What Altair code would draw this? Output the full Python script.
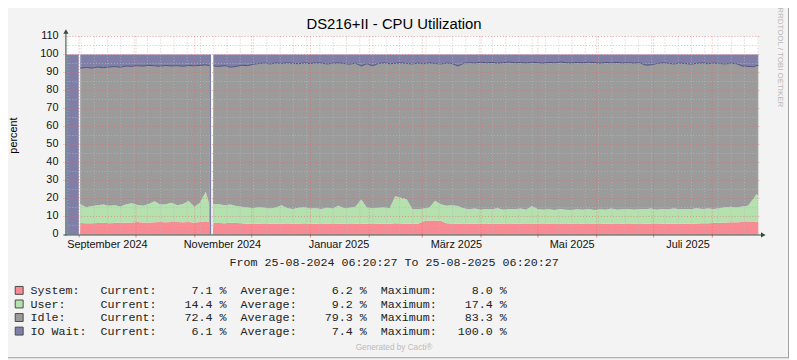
import altair as alt
import pandas as pd
from datetime import datetime, timedelta

# ---------------- time frame ----------------
START = datetime(2024, 8, 25, 6, 20, 27)
END = datetime(2025, 8, 25, 6, 20, 27)
DAYS = (END - START).total_seconds() / 86400.0


def dday(dt):
    return (dt - START).total_seconds() / 86400.0


TITLE = "DS216+II - CPU Utilization"
Y_TITLE = "percent"

series_names = ["System", "User", "Idle", "IO Wait"]
series_colors = ["#F78A92", "#B4E1AD", "#9B9B9B", "#7F7FA8"]
legend_labels = ["System:", "User:", "Idle:", "IO Wait:"]
cur_vals = [7.1, 14.4, 72.4, 6.1]
avg_vals = [6.2, 9.2, 79.3, 7.4]
max_vals = [8.0, 17.4, 83.3, 100.0]

y_ticks = [0, 10, 20, 30, 40, 50, 60, 70, 80, 90, 100, 110]
month_labels = ["September 2024", "November 2024", "Januar 2025",
                "März 2025", "Mai 2025", "Juli 2025"]
month_label_day = [21.6, 82.3, 143.8, 205.7, 266.8, 327.9]

# ---------------- data (days since start, percent) ----------------
# samples where only IO wait is reported (100 %)
io_day = [0.0, 6.5, 75.45, 76.3]
# missing samples (nothing drawn)
gap_day = [6.55, 7.2, 76.4, 77.2]

A_day = [7.3, 10.5, 13.5, 16.5, 19.5, 22.5, 25.5, 28.5, 31.5, 34.5, 37.5, 40.5,
         43.5, 46.5, 49.5, 52.5, 55.5, 58.5, 61.5, 64.5, 67.5, 70.5, 73.5, 75.3]
A_sys = [6.4, 6.2, 6.3, 6.4, 6.5, 6.3, 6.4, 6.6, 6.5, 6.6, 6.9, 6.7,
         6.6, 6.8, 6.9, 6.8, 7.0, 6.9, 6.8, 6.9, 6.7, 7.0, 7.4, 6.9]
A_user = [10.4, 9.0, 9.5, 9.8, 10.1, 9.7, 9.8, 9.0, 10.3, 10.8, 9.5, 9.3,
          10.4, 11.6, 9.7, 10.0, 10.6, 9.3, 10.2, 11.7, 8.7, 10.6, 16.4, 10.1]
A_idle = [75.6, 77.6, 76.7, 76.8, 76.1, 77.1, 77.1, 77.4, 76.8, 76.0, 77.4, 77.6,
          77.0, 75.3, 76.9, 77.1, 76.0, 77.6, 76.5, 75.3, 78.3, 76.4, 70.4, 76.8]
A_io = [7.6, 7.2, 7.5, 7.0, 7.3, 6.9, 6.7, 7.0, 6.4, 6.6, 6.2, 6.4,
        6.0, 6.3, 6.5, 6.1, 6.4, 6.2, 6.5, 6.1, 6.3, 6.0, 5.8, 6.2]

B_day = [77.5, 80.5, 83.5, 86.5, 89.5, 92.5, 95.5, 98.5, 101.5, 104.5,
         107.5, 110.5, 113.5, 116.5, 119.5, 122.5, 125.5, 128.5, 131.5, 134.5,
         137.5, 140.5, 143.5, 146.5, 149.5, 152.5, 155.5, 158.5, 161.5, 164.5,
         167.5, 170.5, 173.5, 176.5, 179.5, 182.5, 185.5, 188.5, 191.5, 194.5,
         197.5, 200.5, 203.5, 206.5, 209.5, 212.5, 215.5, 218.5, 221.5, 224.5,
         227.5, 230.5, 233.5, 236.5, 239.5, 242.5, 245.5, 248.5, 251.5, 254.5,
         257.5, 260.5, 263.5, 266.5, 269.5, 272.5, 275.5, 278.5, 281.5, 284.5,
         287.5, 290.5, 293.5, 296.5, 299.5, 302.5, 305.5, 308.5, 311.5, 314.5,
         317.5, 320.5, 323.5, 326.5, 329.5, 332.5, 335.5, 338.5, 341.5, 344.5,
         347.5, 350.5, 353.5, 356.5, 359.5, 362.5, 364.0, 365.0]
B_sys = [6.5, 6.4, 6.3, 6.5, 6.4, 6.2, 6.0, 5.9, 6.0, 5.8,
         5.9, 6.0, 5.9, 5.8, 6.0, 5.9, 5.8, 5.9, 6.0, 5.8,
         5.9, 5.8, 6.0, 5.9, 5.8, 5.9, 6.1, 5.9, 5.8, 5.9,
         6.0, 5.9, 6.2, 6.1, 6.0, 5.9, 6.0, 7.4, 7.8, 7.7,
         7.6, 6.2, 6.1, 6.0, 6.1, 5.9, 6.0, 5.9, 6.1, 5.9,
         6.0, 5.9, 5.8, 6.0, 5.9, 5.8, 6.0, 5.9, 5.8, 5.9,
         5.8, 5.9, 5.8, 5.9, 5.8, 5.9, 5.8, 5.9, 5.8, 5.9,
         6.0, 5.8, 5.9, 5.8, 5.9, 5.8, 5.9, 6.0, 5.8, 5.9,
         6.0, 5.9, 5.9, 6.0, 6.0, 6.1, 6.2, 6.3, 6.4, 6.5,
         6.7, 6.8, 6.8, 6.9, 7.0, 7.0, 7.1, 7.1]
B_user = [10.5, 10.4, 9.9, 10.1, 9.4, 9.2, 9.0, 8.7, 9.2, 9.0,
          8.5, 9.0, 10.3, 8.8, 8.2, 8.9, 9.4, 8.5, 8.6, 8.4,
          8.9, 8.6, 10.0, 8.7, 9.0, 9.5, 13.3, 9.1, 8.8, 8.9,
          9.0, 8.7, 15.0, 14.3, 13.6, 8.3, 8.0, 7.0, 7.2, 11.1,
          9.2, 9.8, 10.1, 9.8, 8.5, 8.1, 8.4, 7.9, 8.1, 8.1,
          8.6, 7.9, 8.4, 8.0, 8.5, 8.0, 9.8, 8.3, 8.0, 8.1,
          7.8, 8.3, 8.0, 7.7, 8.2, 7.9, 8.4, 7.7, 8.2, 7.9,
          8.4, 8.0, 8.1, 8.4, 7.9, 8.4, 8.1, 8.4, 8.0, 8.3,
          8.0, 8.5, 8.1, 8.2, 8.0, 8.5, 8.0, 8.1, 7.8, 8.1,
          8.5, 8.6, 8.2, 8.7, 9.0, 13.0, 15.3, 14.4]
B_idle = [76.6, 76.6, 77.6, 76.4, 77.6, 78.6, 78.8, 80.0, 79.8, 80.4,
          80.4, 80.3, 78.8, 80.8, 80.9, 80.1, 80.1, 80.6, 80.8, 81.0,
          80.0, 80.7, 79.3, 80.4, 79.9, 79.8, 74.2, 79.9, 79.1, 80.2,
          80.3, 80.3, 73.9, 75.0, 75.4, 80.6, 81.2, 80.5, 80.3, 76.2,
          78.0, 79.2, 78.8, 77.8, 80.5, 81.5, 80.9, 81.9, 81.2, 81.6,
          80.6, 81.7, 81.6, 81.4, 81.2, 81.5, 79.9, 81.3, 81.4, 81.6,
          81.8, 81.6, 81.7, 81.7, 81.6, 81.6, 81.5, 81.9, 81.2, 81.8,
          81.0, 81.8, 81.3, 81.3, 81.4, 81.2, 80.1, 79.9, 81.2, 81.1,
          81.1, 80.4, 81.2, 80.8, 80.7, 80.5, 81.1, 80.5, 81.0, 80.4,
          79.6, 79.7, 79.9, 78.0, 77.4, 73.2, 71.4, 72.4]
B_io = [6.4, 6.6, 6.2, 7.0, 6.6, 6.0, 6.2, 5.4, 5.0, 4.8,
        5.2, 4.7, 5.0, 4.6, 4.9, 5.1, 4.7, 5.0, 4.6, 4.8,
        5.2, 4.9, 4.7, 5.0, 5.3, 4.8, 6.4, 5.1, 6.3, 5.0,
        4.7, 5.1, 4.9, 4.6, 5.0, 5.2, 4.8, 5.1, 4.7, 5.0,
        5.2, 4.8, 5.0, 6.4, 4.9, 4.5, 4.7, 4.3, 4.6, 4.4,
        4.8, 4.5, 4.2, 4.6, 4.4, 4.7, 4.3, 4.5, 4.8, 4.4,
        4.6, 4.2, 4.5, 4.7, 4.4, 4.6, 4.3, 4.5, 4.8, 4.4,
        4.6, 4.4, 4.7, 4.5, 4.8, 4.6, 5.9, 5.7, 5.0, 4.7,
        4.9, 5.2, 4.8, 5.0, 5.3, 4.9, 4.7, 5.1, 4.8, 5.0,
        5.2, 4.9, 5.1, 6.4, 6.6, 6.8, 6.2, 6.1]

# ---------------- build the table ----------------
rows = []


def add(d, seg, vals):
    for k, name in enumerate(series_names):
        rows.append({"day": d, "seg": seg, "series": name, "order": k, "value": vals[k]})


for d in io_day:
    add(d, "io", [0.0, 0.0, 0.0, 100.0])
for d in gap_day:
    add(d, "gap", [0.0, 0.0, 0.0, 0.0])
for i, d in enumerate(A_day):
    add(d, "A", [A_sys[i], A_user[i], A_idle[i], A_io[i]])
for i, d in enumerate(B_day):
    add(d, "B", [B_sys[i], B_user[i], B_idle[i], B_io[i]])
df = pd.DataFrame(rows).sort_values(["day", "order"]).reset_index(drop=True)

# grid positions
month_days = []
m = datetime(2024, 9, 1)
while m < END:
    month_days.append(dday(m))
    m = datetime(m.year + (m.month // 12), m.month % 12 + 1, 1)
week_days = []
w = datetime(2024, 8, 26)
while w < END:
    week_days.append(dday(w))
    w += timedelta(days=7)

df_month = pd.DataFrame({"d": month_days})
df_week = pd.DataFrame({"d": week_days})
df_hmaj = pd.DataFrame({"v": y_ticks[1:]})
df_hmin = pd.DataFrame({"v": [t + 5 for t in y_ticks[:-1]]})
df_ylab = pd.DataFrame({"v": y_ticks, "t": [str(t) for t in y_ticks]})
df_lab = pd.DataFrame({"d": month_label_day, "label": month_labels})
one = pd.DataFrame({"k": [0]})

AXIS = "#2C4D43"
SANS = "Liberation Sans"
MONO = "Liberation Mono"
W, H = 699, 200
MGRID = "#E46A6A"
GRID = "#B8B8B8"

xs = alt.Scale(domain=[0, DAYS], nice=False, zero=False)
ys = alt.Scale(domain=[0, 110], nice=False, zero=False)

base = alt.Chart(df).transform_stack(
    stack="value", groupby=["day"], as_=["y0", "y1"],
    sort=[alt.SortField("order", order="ascending")])

areas = base.mark_area(interpolate="linear").encode(
    x=alt.X("day:Q", scale=xs, axis=None),
    y=alt.Y("y1:Q", scale=ys, axis=None),
    y2="y0:Q",
    color=alt.Color("series:N", scale=alt.Scale(domain=series_names, range=series_colors),
                    legend=None),
)

idle_line = base.transform_filter(
    "datum.series == 'Idle' && (datum.seg == 'A' || datum.seg == 'B')"
).mark_line(color="#50507A", strokeWidth=1).encode(
    x=alt.X("day:Q", scale=xs, axis=None),
    y=alt.Y("y1:Q", scale=ys, axis=None),
    detail="seg:N",
)

hmin = alt.Chart(df_hmin).mark_rule(stroke=GRID, strokeDash=[1, 2], opacity=0.75).encode(
    y=alt.Y("v:Q", scale=ys, axis=None), x=alt.value(0), x2=alt.value(W))
hmaj = alt.Chart(df_hmaj).mark_rule(stroke=MGRID, strokeDash=[1, 2], opacity=0.6).encode(
    y=alt.Y("v:Q", scale=ys, axis=None), x=alt.value(-3), x2=alt.value(W + 2))
vmin = alt.Chart(df_week).mark_rule(stroke=GRID, strokeDash=[1, 2], opacity=0.75).encode(
    x=alt.X("d:Q", scale=xs, axis=None), y=alt.value(0), y2=alt.value(H))
vmaj = alt.Chart(df_month).mark_rule(stroke=MGRID, strokeDash=[1, 2], opacity=0.6).encode(
    x=alt.X("d:Q", scale=xs, axis=None), y=alt.value(0), y2=alt.value(H))
vtick = alt.Chart(df_month).mark_rule(stroke=MGRID, opacity=0.8).encode(
    x=alt.X("d:Q", scale=xs, axis=None), y=alt.value(H), y2=alt.value(H + 3))

ylabels = alt.Chart(df_ylab).mark_text(font=SANS, fontSize=11, color="#111111",
                                       align="right", baseline="middle").encode(
    y=alt.Y("v:Q", scale=ys, axis=None), x=alt.value(-8), text="t:N")

yaxis_line = alt.Chart(one).mark_rule(color=AXIS, strokeWidth=1).encode(
    x=alt.value(-0.5), y=alt.value(H + 1), y2=alt.value(-4))
xaxis_line = alt.Chart(one).mark_rule(color=AXIS, strokeWidth=1).encode(
    x=alt.value(-3), x2=alt.value(W + 4), y=alt.value(H + 0.5))
arrow_up = alt.Chart(one).mark_point(shape="triangle-up", filled=True, color=AXIS,
                                     size=28, opacity=1).encode(
    x=alt.value(-0.5), y=alt.value(-5))
arrow_right = alt.Chart(one).mark_point(shape="triangle-right", filled=True, color=AXIS,
                                        size=28, opacity=1).encode(
    x=alt.value(W + 5), y=alt.value(H + 0.5))

title = alt.Chart(one).mark_text(text=TITLE, font=SANS, fontSize=15, color="#000000",
                                 align="center", baseline="alphabetic").encode(
    x=alt.value(331), y=alt.value(-7.5))
ytitle = alt.Chart(one).mark_text(text=Y_TITLE, font=SANS, fontSize=11, color="#000000",
                                  align="center", baseline="middle", angle=270).encode(
    x=alt.value(-53), y=alt.value(H / 2))
xlabels = alt.Chart(df_lab).mark_text(font=SANS, fontSize=11, color="#111111",
                                      align="center", baseline="alphabetic").encode(
    x=alt.X("d:Q", scale=xs, axis=None), y=alt.value(214), text="label:N")

fmt = "%d-%m-%Y %H:%M:%S"
from_text = "From " + START.strftime(fmt) + " To " + END.strftime(fmt)
fromline = alt.Chart(one).mark_text(text=from_text, font=MONO, fontSize=11.8, color="#222222",
                                    align="center", baseline="middle").encode(
    x=alt.value(331), y=alt.value(228.3))

legend_layers = []
row_y = [256.5, 270.2, 283.9, 297.6]
for k in range(4):
    line = "{:<10}Current:{:>8.1f} %  Average:{:>8.1f} %  Maximum:{:>8.1f} %".format(
        legend_labels[k], cur_vals[k], avg_vals[k], max_vals[k]).replace(" ", "\u00a0")
    legend_layers.append(alt.Chart(one).mark_square(
        size=64, filled=True, color=series_colors[k], stroke="#4A4A4A", strokeWidth=1,
        opacity=1).encode(x=alt.value(-47.7), y=alt.value(row_y[k])))
    legend_layers.append(alt.Chart(one).mark_text(
        text=line, font=MONO, fontSize=11.8, color="#222222", align="left",
        baseline="middle").encode(x=alt.value(-36.3), y=alt.value(row_y[k])))

gen = alt.Chart(one).mark_text(text="Generated by Cacti®", font=SANS, fontSize=8.3,
                               color="#BBBBBB", align="center", baseline="middle").encode(
    x=alt.value(331), y=alt.value(314.3))
rrd = alt.Chart(one).mark_text(text="RRDTOOL / TOBI OETIKER", font=SANS, fontSize=8,
                               color="#B8B8B8", align="center", baseline="middle",
                               angle=90).encode(x=alt.value(721), y=alt.value(21))

border_r = alt.Chart(one).mark_rule(color="#A0A0A0", strokeWidth=1).encode(
    x=alt.value(729.5), y=alt.value(-35), y2=alt.value(325))
border_b = alt.Chart(one).mark_rule(color="#A0A0A0", strokeWidth=1).encode(
    x=alt.value(-67), x2=alt.value(730), y=alt.value(324.5))

chart = alt.layer(
    areas, idle_line, hmin, vmin, hmaj, vmaj, vtick,
    yaxis_line, xaxis_line, arrow_up, arrow_right, ylabels,
    title, ytitle, xlabels, fromline, *legend_layers, gen, rrd, border_r, border_b,
).properties(
    width=W, height=H,
    background="#F3F3F3",
    padding={"left": 59, "top": 27, "right": 31, "bottom": 125},
    autosize=alt.AutoSizeParams(type="none"),
).configure_view(fill="#FFFFFF", strokeWidth=0)

chart.save("out.html", embed_options={"renderer": "svg", "actions": False})
